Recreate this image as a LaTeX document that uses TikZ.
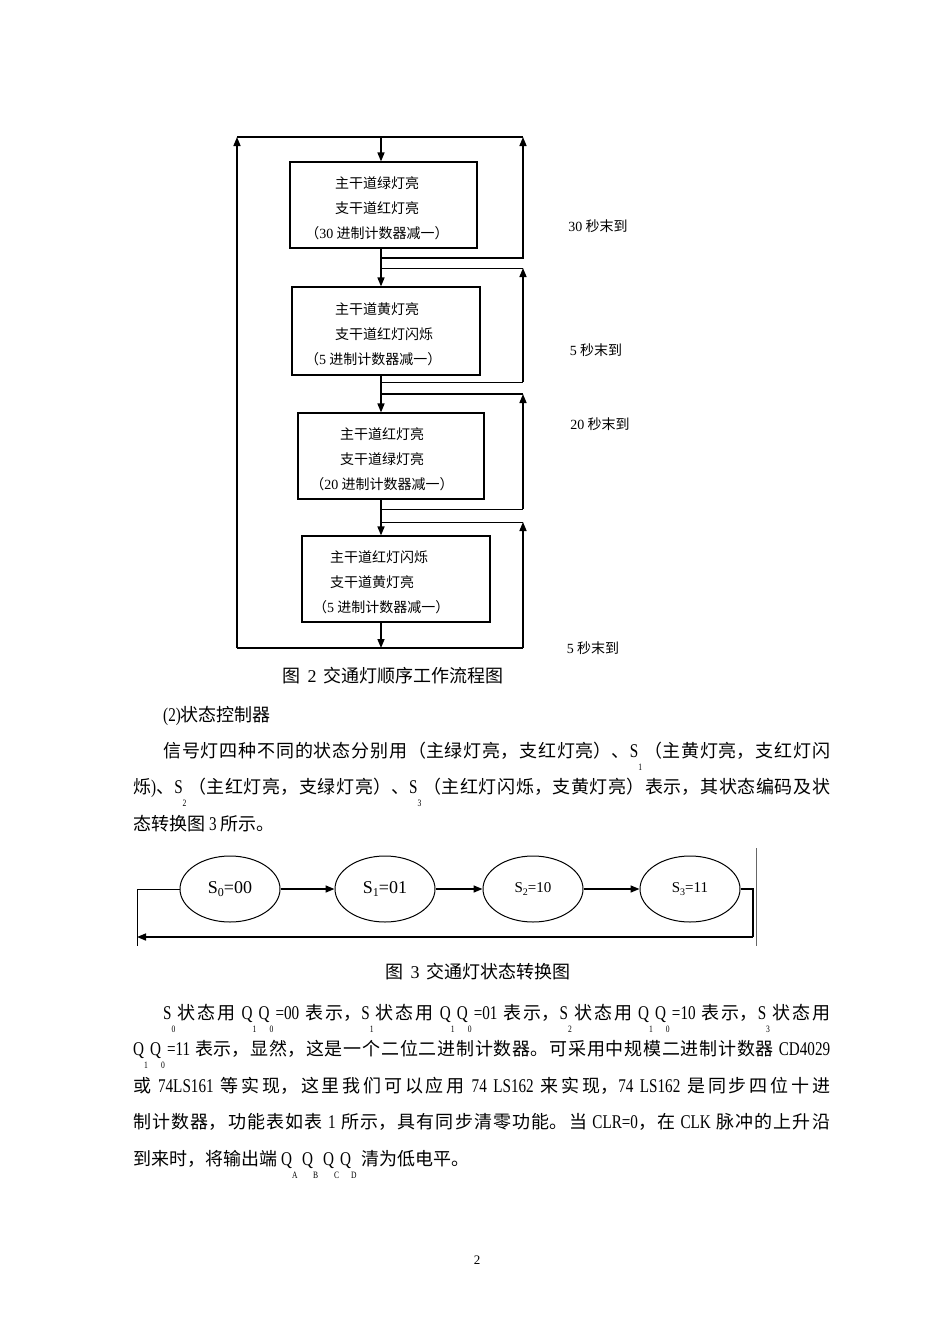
\documentclass[tikz,border=0pt]{standalone}
\usepackage{fontspec}
\setmainfont{Noto Sans CJK SC}
\newfontfamily\tnr{Liberation Serif}
\newfontfamily\nar[FakeStretch=0.78,Scale=1.08]{Liberation Serif}
\usetikzlibrary{arrows.meta,positioning,shapes.geometric}
\XeTeXlinebreaklocale "zh"
\XeTeXlinebreakskip=0pt plus 2pt
\newcommand{\bodyfont}{\fontsize{18}{36.5}\selectfont}
\newcommand{\lsub}[2]{{\nar #1}\makebox[6pt][l]{\raisebox{-13pt}{\fontsize{9}{9}\selectfont\nar #2}}}
\newcommand{\stsub}[3]{{\tnr S\raisebox{-3pt}{\fontsize{#3}{#3}\selectfont #1}=#2}}
\newcommand{\fignum}[1]{\hspace{0.4em}{\tnr #1}\hspace{0.4em}}

\begin{document}
\begin{tikzpicture}[x=1pt,y=-1pt,
    >={Triangle[length=9pt,width=7pt]},
    flow/.style={line width=1.5pt},
    thinflow/.style={line width=1pt},
    stage/.style={draw, line width=1.1pt, minimum width=#1, minimum height=86pt, inner sep=0pt},
    stage/.default=187pt,
    stagetext/.style={font=\fontsize{14}{25}\selectfont, inner sep=0pt},
    lbl/.style={font=\fontsize{14}{14}\selectfont, inner sep=0pt},
    caption/.style={font=\fontsize{18}{18}\selectfont, inner sep=0pt},
    state/.style={ellipse, draw, line width=1pt, minimum width=100pt, minimum height=66pt, inner sep=0pt, font=\fontsize{18}{18}\selectfont},
    para/.style={text width=697pt, align=justify, inner sep=0pt, anchor=base west, font=\bodyfont}]
\useasboundingbox (0,0) rectangle (950,1344);

% flow chart of the four stages
\node[stage] (green) at (383.5,205) {};
\node[stage=188pt, minimum height=88pt] (yellow) at (386,331) {};
\node[stage=186pt] (red) at (391,456) {};
\node[stage=188pt] (flash) at (396,579) {};

\node[stagetext, align=center] (greentext) at (377,208) {主干道绿灯亮\\支干道红灯亮\\（{\tnr 30} 进制计数器减一）};
\node[stagetext, align=left, anchor=west] (yellowtext) at (305,334) {\hspace*{30pt}主干道黄灯亮\\\hspace*{30pt}支干道红灯闪烁\\（{\tnr 5} 进制计数器减一）};
\node[stagetext, align=center] (redtext) at (382,459) {主干道红灯亮\\支干道绿灯亮\\（{\tnr 20} 进制计数器减一）};
\node[stagetext, align=left, anchor=west] (flashtext) at (313,582) {\hspace*{17pt}主干道红灯闪烁\\\hspace*{17pt}支干道黄灯亮\\（{\tnr 5} 进制计数器减一）};

\coordinate (tl) at (237,137);
\coordinate (tr) at (523,137);
\coordinate (bl) at (237,648);
\coordinate (br) at (523,648);
\coordinate (spine) at (381,137);
\coordinate (out1) at (381,258);
\coordinate (back1) at (523,258);
\coordinate (in2) at (381,268);
\coordinate (top2) at (523,268);
\coordinate (out2) at (381,382);
\coordinate (back2) at (523,382);
\coordinate (in3) at (381,394);
\coordinate (top3) at (523,394);
\coordinate (out3) at (381,509);
\coordinate (back3) at (523,509);
\coordinate (in4) at (381,522);
\coordinate (top4) at (523,522);

\draw[flow] (tl) -- (tr);
\draw[flow,->] (bl) -- (tl);
\draw[flow,->] (spine) -- (spine |- green.north);
\draw[flow,->] (out1) -- (back1) -- (tr);
\draw[flow,->] (spine |- green.south) -- (spine |- yellow.north);
\draw[thinflow] (in2) -- (top2);
\draw[thinflow] (out2) -- (back2);
\draw[flow,->] (back2) -- (top2);
\draw[flow,->] (spine |- yellow.south) -- (spine |- red.north);
\draw[flow] (in3) -- (top3);
\draw[thinflow] (out3) -- (back3);
\draw[flow,->] (back3) -- (top3);
\draw[flow,->] (spine |- red.south) -- (spine |- flash.north);
\draw[thinflow] (in4) -- (top4);
\draw[flow,->] (spine |- flash.south) -- (spine |- bl);
\draw[flow] (bl) -- (br);
\draw[flow,->] (br) -- (top4);

\node[lbl] (l30) at (598,226) {{\tnr 30} 秒末到};
\node[lbl] (l5a) at (596,350) {{\tnr 5} 秒末到};
\node[lbl] (l20) at (600,424) {{\tnr 20} 秒末到};
\node[lbl] (l5b) at (593,648) {{\tnr 5} 秒末到};

\node[caption] (fig2) at (393,676) {图\fignum{2}交通灯顺序工作流程图};

% text about the state controller
\node[font=\bodyfont, inner sep=0pt, anchor=base west] (heading) at (163,721) {{\nar (2)}状态控制器};
\node[para] (para1) at (133,757) {\hspace*{30pt}信号灯四种不同的状态分别用（主绿灯亮，支红灯亮）、\lsub{S}{1}（主黄灯亮，支红灯闪\linebreak
烁{\nar )}、\lsub{S}{2}（主红灯亮，支绿灯亮）、\lsub{S}{3}（主红灯闪烁，支黄灯亮）表示，其状态编码及状\linebreak
态转换图 {\nar 3} 所示。};

% state diagram
\node[state] (s0) at (230,889) {\stsub{0}{00}{12}\hspace{6pt}};
\node[state] (s1) at (385,889) {\stsub{1}{01}{12}};
\node[state, font=\fontsize{15}{15}\selectfont] (s2) at (533,889) {\stsub{2}{10}{10}\hspace{18pt}};
\node[state, font=\fontsize{15}{15}\selectfont] (s3) at (690,889) {\stsub{3}{11}{10}\hspace{16pt}};

\coordinate (rc) at (753,937);
\coordinate (lc) at (137,937);
\coordinate (lend) at (137,946);
\coordinate (rtop) at (756,848);
\coordinate (rbot) at (756,946);

\draw[flow,->] (s0) -- (s1);
\draw[flow,->] (s1) -- (s2);
\draw[flow,->] (s2) -- (s3);
\draw[flow] (s3.east) -| (rc);
\draw[flow,->] (rc) -- (lc);
\draw[thinflow] (s0.west) -| (lend);
\draw[line width=0.6pt, black!60] (rtop) -- (rbot);

\node[caption] (fig3) at (478,972) {图\fignum{3}交通灯状态转换图};

\node[para] (para2) at (133,1019) {\hspace*{30pt}\lsub{S}{0}状态用 \lsub{Q}{1}\lsub{Q}{0}{\nar =00} 表示，\lsub{S}{1}状态用 \lsub{Q}{1}\lsub{Q}{0}{\nar =01} 表示，\lsub{S}{2}状态用 \lsub{Q}{1}\lsub{Q}{0}{\nar =10} 表示，\lsub{S}{3}状态用\linebreak
\lsub{Q}{1}\lsub{Q}{0}{\nar =11} 表示，显然，这是一个二位二进制计数器。可采用中规模二进制计数器 {\nar CD4029}\linebreak
或 {\nar 74LS161} 等实现，这里我们可以应用 {\nar 74 LS162} 来实现，{\nar 74 LS162} 是同步四位十进\linebreak
制计数器，功能表如表 {\nar 1} 所示，具有同步清零功能。当 {\nar CLR=0}，在 {\nar CLK} 脉冲的上升沿\linebreak
到来时，将输出端 \lsub{Q}{A} \lsub{Q}{B} \lsub{Q}{C}\lsub{Q}{D} 清为低电平。};

\node[font=\fontsize{13}{13}\selectfont, inner sep=0pt] (page) at (477,1260) {\tnr 2};
\end{tikzpicture}
\end{document}
